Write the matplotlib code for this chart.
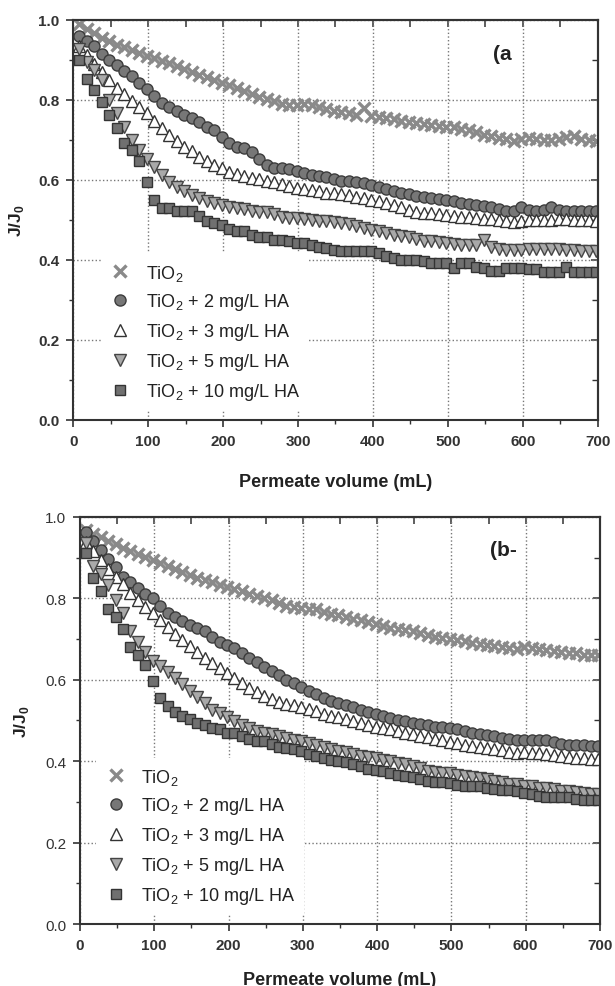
import numpy as np
import matplotlib
matplotlib.use('Agg')
import matplotlib.pyplot as plt
from matplotlib.ticker import MultipleLocator, FormatStrFormatter

plt.rcParams['font.family'] = 'Liberation Sans'

# permeate volume (mL), shared by every series
volume = np.arange(8, 700, 10)

labels = ['TiO$_\\mathregular{2}$',
          'TiO$_\\mathregular{2}$ + 2 mg/L HA',
          'TiO$_\\mathregular{2}$ + 3 mg/L HA',
          'TiO$_\\mathregular{2}$ + 5 mg/L HA',
          'TiO$_\\mathregular{2}$ + 10 mg/L HA']

# panel (a)
a_tio2 = [0.990, 0.977, 0.966, 0.955, 0.946, 0.938, 0.931, 0.924, 0.916, 0.909,
          0.904, 0.898, 0.891, 0.884, 0.876, 0.869, 0.862, 0.856, 0.850, 0.843,
          0.837, 0.830, 0.823, 0.815, 0.808, 0.802, 0.796, 0.790, 0.787, 0.788,
          0.789, 0.787, 0.783, 0.777, 0.773, 0.769, 0.766, 0.762, 0.779, 0.760,
          0.758, 0.754, 0.751, 0.748, 0.744, 0.741, 0.739, 0.737, 0.735, 0.733,
          0.731, 0.728, 0.724, 0.719, 0.713, 0.709, 0.705, 0.702, 0.698, 0.701,
          0.705, 0.703, 0.700, 0.699, 0.702, 0.707, 0.710, 0.702, 0.699, 0.698]
a_ha2 = [0.959, 0.948, 0.934, 0.915, 0.900, 0.888, 0.872, 0.860, 0.843, 0.828,
         0.810, 0.791, 0.781, 0.772, 0.763, 0.754, 0.745, 0.733, 0.724, 0.708,
         0.692, 0.681, 0.679, 0.670, 0.652, 0.638, 0.630, 0.629, 0.626, 0.621,
         0.617, 0.613, 0.609, 0.606, 0.602, 0.598, 0.596, 0.594, 0.592, 0.588,
         0.583, 0.578, 0.572, 0.568, 0.564, 0.560, 0.557, 0.554, 0.552, 0.550,
         0.546, 0.542, 0.540, 0.538, 0.535, 0.531, 0.527, 0.522, 0.523, 0.532,
         0.524, 0.523, 0.524, 0.532, 0.525, 0.523, 0.522, 0.522, 0.522, 0.521]
a_ha3 = [0.935, 0.912, 0.890, 0.870, 0.850, 0.830, 0.814, 0.797, 0.782, 0.767,
         0.748, 0.729, 0.713, 0.697, 0.683, 0.671, 0.658, 0.648, 0.638, 0.629,
         0.620, 0.615, 0.610, 0.604, 0.601, 0.598, 0.594, 0.589, 0.584, 0.580,
         0.578, 0.575, 0.572, 0.568, 0.566, 0.564, 0.561, 0.557, 0.554, 0.550,
         0.546, 0.542, 0.538, 0.532, 0.524, 0.520, 0.518, 0.517, 0.514, 0.512,
         0.510, 0.508, 0.506, 0.504, 0.503, 0.501, 0.499, 0.497, 0.495, 0.498,
         0.499, 0.499, 0.499, 0.499, 0.501, 0.503, 0.500, 0.499, 0.499, 0.498]
a_ha5 = [0.928, 0.895, 0.875, 0.850, 0.800, 0.768, 0.731, 0.700, 0.674, 0.653,
         0.631, 0.613, 0.594, 0.581, 0.571, 0.562, 0.554, 0.547, 0.541, 0.536,
         0.533, 0.529, 0.526, 0.523, 0.520, 0.520, 0.515, 0.508, 0.504, 0.504,
         0.502, 0.500, 0.498, 0.496, 0.495, 0.493, 0.490, 0.484, 0.479, 0.475,
         0.471, 0.467, 0.463, 0.460, 0.456, 0.452, 0.448, 0.446, 0.444, 0.442,
         0.440, 0.438, 0.437, 0.437, 0.450, 0.432, 0.428, 0.424, 0.424, 0.425,
         0.426, 0.427, 0.428, 0.427, 0.426, 0.425, 0.424, 0.423, 0.423, 0.423]
a_ha10 = [0.900, 0.853, 0.825, 0.795, 0.761, 0.729, 0.692, 0.674, 0.648, 0.594,
          0.550, 0.529, 0.529, 0.521, 0.521, 0.521, 0.509, 0.498, 0.492, 0.488,
          0.476, 0.471, 0.471, 0.463, 0.458, 0.458, 0.450, 0.450, 0.446, 0.442,
          0.442, 0.438, 0.433, 0.429, 0.425, 0.421, 0.421, 0.421, 0.421, 0.421,
          0.417, 0.410, 0.404, 0.400, 0.400, 0.400, 0.396, 0.392, 0.392, 0.392,
          0.379, 0.392, 0.392, 0.381, 0.379, 0.372, 0.371, 0.379, 0.379, 0.379,
          0.377, 0.377, 0.369, 0.369, 0.369, 0.382, 0.369, 0.369, 0.369, 0.369]

# panel (b)
b_tio2 = [0.968, 0.957, 0.950, 0.942, 0.934, 0.924, 0.916, 0.909, 0.901, 0.894,
          0.887, 0.879, 0.872, 0.865, 0.857, 0.851, 0.846, 0.840, 0.834, 0.829,
          0.823, 0.818, 0.812, 0.806, 0.801, 0.795, 0.789, 0.782, 0.779, 0.777,
          0.775, 0.773, 0.767, 0.762, 0.758, 0.754, 0.750, 0.746, 0.742, 0.737,
          0.732, 0.728, 0.724, 0.722, 0.720, 0.716, 0.710, 0.705, 0.702, 0.699,
          0.697, 0.695, 0.691, 0.688, 0.686, 0.684, 0.681, 0.677, 0.676, 0.680,
          0.677, 0.675, 0.673, 0.671, 0.669, 0.667, 0.665, 0.662, 0.661, 0.660]
b_ha2 = [0.962, 0.942, 0.919, 0.896, 0.877, 0.852, 0.840, 0.825, 0.811, 0.800,
         0.782, 0.764, 0.754, 0.744, 0.735, 0.727, 0.719, 0.706, 0.694, 0.685,
         0.677, 0.665, 0.654, 0.644, 0.632, 0.621, 0.612, 0.600, 0.591, 0.582,
         0.573, 0.565, 0.556, 0.549, 0.543, 0.537, 0.532, 0.526, 0.521, 0.516,
         0.511, 0.506, 0.502, 0.499, 0.495, 0.491, 0.488, 0.485, 0.483, 0.481,
         0.478, 0.474, 0.470, 0.467, 0.464, 0.462, 0.458, 0.455, 0.452, 0.451,
         0.451, 0.451, 0.451, 0.447, 0.443, 0.441, 0.440, 0.439, 0.438, 0.438]
b_ha3 = [0.939, 0.916, 0.895, 0.872, 0.853, 0.835, 0.813, 0.796, 0.778, 0.763,
         0.746, 0.729, 0.713, 0.698, 0.683, 0.668, 0.653, 0.642, 0.629, 0.616,
         0.604, 0.593, 0.580, 0.569, 0.561, 0.552, 0.546, 0.541, 0.537, 0.533,
         0.528, 0.523, 0.517, 0.512, 0.508, 0.504, 0.499, 0.493, 0.489, 0.485,
         0.481, 0.478, 0.474, 0.470, 0.467, 0.463, 0.459, 0.455, 0.452, 0.448,
         0.445, 0.441, 0.437, 0.434, 0.432, 0.430, 0.427, 0.423, 0.421, 0.422,
         0.421, 0.420, 0.418, 0.416, 0.413, 0.410, 0.408, 0.407, 0.406, 0.406]
b_ha5 = [0.935, 0.880, 0.861, 0.832, 0.795, 0.764, 0.720, 0.692, 0.668, 0.645,
         0.634, 0.619, 0.604, 0.589, 0.573, 0.557, 0.542, 0.527, 0.518, 0.508,
         0.498, 0.490, 0.481, 0.474, 0.469, 0.466, 0.462, 0.458, 0.453, 0.449,
         0.445, 0.441, 0.435, 0.430, 0.426, 0.422, 0.418, 0.414, 0.411, 0.407,
         0.404, 0.400, 0.396, 0.393, 0.389, 0.383, 0.377, 0.374, 0.372, 0.370,
         0.367, 0.363, 0.361, 0.359, 0.356, 0.352, 0.348, 0.345, 0.343, 0.340,
         0.338, 0.335, 0.333, 0.331, 0.328, 0.326, 0.324, 0.322, 0.320, 0.320]
b_ha10 = [0.912, 0.851, 0.817, 0.773, 0.754, 0.724, 0.681, 0.662, 0.637, 0.597,
          0.555, 0.535, 0.522, 0.511, 0.503, 0.494, 0.490, 0.482, 0.478, 0.470,
          0.470, 0.461, 0.454, 0.449, 0.449, 0.442, 0.434, 0.433, 0.429, 0.424,
          0.418, 0.412, 0.408, 0.404, 0.401, 0.397, 0.392, 0.387, 0.382, 0.378,
          0.375, 0.371, 0.367, 0.363, 0.360, 0.356, 0.352, 0.350, 0.348, 0.346,
          0.342, 0.339, 0.339, 0.339, 0.335, 0.331, 0.330, 0.330, 0.328, 0.322,
          0.320, 0.315, 0.312, 0.312, 0.312, 0.312, 0.308, 0.304, 0.304, 0.304]

styles = [
    dict(marker='x', color='#8a8a8a', ms=8.5, mew=2.4, ls='none'),
    dict(marker='o', mfc='#777777', mec='#3c3c3c', mew=1.0, ms=8, ls='none'),
    dict(marker='^', mfc='white', mec='#333333', mew=1.0, ms=8.5, ls='none'),
    dict(marker='v', mfc='#a9a9a9', mec='#444444', mew=1.0, ms=8.5, ls='none'),
    dict(marker='s', mfc='#707070', mec='#333333', mew=1.0, ms=7, ls='none'),
]


def draw_panel(ax, series, tag, tag_xy, bold_y, leg_anchor, ylab_x, xlab_y):
    for vals, lab, st in zip(series, labels, styles):
        ax.plot(volume, vals, label=lab, **st)
    ax.set_xlim(0, 700)
    ax.set_ylim(0, 1.0)
    ax.xaxis.set_major_locator(MultipleLocator(100))
    ax.xaxis.set_minor_locator(MultipleLocator(50))
    ax.yaxis.set_major_locator(MultipleLocator(0.2))
    ax.yaxis.set_minor_locator(MultipleLocator(0.1))
    ax.yaxis.set_major_formatter(FormatStrFormatter('%.1f'))
    ax.grid(True, which='major', ls=':', color='#777777', lw=1.0)
    ax.tick_params(which='major', direction='out', length=5, width=1.2,
                   colors='#333333', labelsize=11, pad=5)
    ax.tick_params(which='minor', direction='out', length=3, width=1.0,
                   colors='#333333')
    for lab in ax.get_xticklabels():
        lab.set_fontweight('bold')
    for lab in ax.get_yticklabels():
        lab.set_fontweight('bold' if bold_y else 'normal')
    for sp in ax.spines.values():
        sp.set_color('#333333')
        sp.set_linewidth(1.5)
        sp.set_zorder(6)

    # inward ticks on top and right, as in Origin
    top = ax.secondary_xaxis('top')
    top.xaxis.set_major_locator(MultipleLocator(100))
    top.xaxis.set_minor_locator(MultipleLocator(50))
    top.tick_params(which='both', direction='in', length=5, width=1.1,
                    colors='#333333', labeltop=False)
    right = ax.secondary_yaxis('right')
    right.yaxis.set_major_locator(MultipleLocator(0.2))
    right.yaxis.set_minor_locator(MultipleLocator(0.1))
    right.tick_params(which='major', direction='in', length=5, width=1.1,
                      colors='#333333', labelright=False)
    right.tick_params(which='minor', direction='in', length=4, width=1.0,
                      colors='#333333')
    for sp in list(top.spines.values()) + list(right.spines.values()):
        sp.set_color('#333333')
        sp.set_linewidth(1.5)

    ax.set_xlabel('Permeate volume (mL)', fontsize=13, fontweight='bold',
                  color='#222222')
    ax.xaxis.set_label_coords(0.5, xlab_y)
    ax.set_ylabel('J/J$_\\mathregular{0}$', fontsize=12.5, fontweight='bold',
                  color='#222222')
    ax.yaxis.set_label_coords(ylab_x, 0.5)

    ax.text(tag_xy[0], tag_xy[1], tag, fontsize=15, fontweight='bold',
            color='#222222', ha='center', va='center')

    leg = ax.legend(loc='lower left', bbox_to_anchor=leg_anchor, fontsize=13,
                    frameon=True, facecolor='white', edgecolor='none',
                    framealpha=1.0, fancybox=False, borderpad=0.5,
                    handlelength=1.2, handletextpad=0.8, labelspacing=0.49,
                    markerscale=1.0)
    for t in leg.get_texts():
        t.set_color('#222222')


fig = plt.figure(figsize=(6.15, 9.87), dpi=100)
ax1 = fig.add_axes([0.119, 0.5735, 0.853, 0.4055])
ax2 = fig.add_axes([0.130, 0.0628, 0.8455, 0.4124])

draw_panel(ax1, [a_tio2, a_ha2, a_ha3, a_ha5, a_ha10], '(a', (572, 0.915),
           True, (0.035, 0.0), -0.09, -0.132)
draw_panel(ax2, [b_tio2, b_ha2, b_ha3, b_ha5, b_ha10], '(b-', (570, 0.92),
           False, (0.013, 0.0), -0.095, -0.115)

fig.savefig('out.png', dpi=100)
